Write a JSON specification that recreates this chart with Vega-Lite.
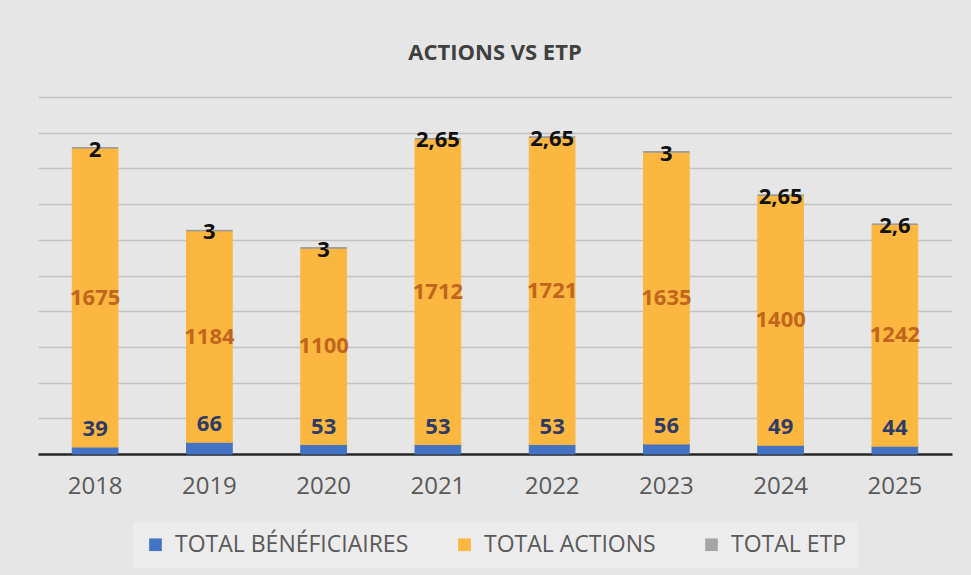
{
  "$schema": "https://vega.github.io/schema/vega-lite/v6.json",
  "width": 914,
  "height": 357,
  "autosize": {"type": "none"},
  "padding": {"left": 38, "top": 97, "right": 19, "bottom": 121},
  "background": "#e6e6e6",
  "title": {
    "text": "ACTIONS VS ETP",
    "font": "Open Sans",
    "fontSize": 22,
    "fontWeight": "bold",
    "color": "#404040",
    "anchor": "middle",
    "offset": 32
  },
  "data": {
    "values": [
      {"year": "2018", "series": "TOTAL BÉNÉFICIAIRES", "idx": 1, "value": 39, "label": "39"},
      {"year": "2018", "series": "TOTAL ACTIONS", "idx": 2, "value": 1675, "label": "1675"},
      {"year": "2018", "series": "TOTAL ETP", "idx": 3, "value": 2, "label": "2"},
      {"year": "2019", "series": "TOTAL BÉNÉFICIAIRES", "idx": 1, "value": 66, "label": "66"},
      {"year": "2019", "series": "TOTAL ACTIONS", "idx": 2, "value": 1184, "label": "1184"},
      {"year": "2019", "series": "TOTAL ETP", "idx": 3, "value": 3, "label": "3"},
      {"year": "2020", "series": "TOTAL BÉNÉFICIAIRES", "idx": 1, "value": 53, "label": "53"},
      {"year": "2020", "series": "TOTAL ACTIONS", "idx": 2, "value": 1100, "label": "1100"},
      {"year": "2020", "series": "TOTAL ETP", "idx": 3, "value": 3, "label": "3"},
      {"year": "2021", "series": "TOTAL BÉNÉFICIAIRES", "idx": 1, "value": 53, "label": "53"},
      {"year": "2021", "series": "TOTAL ACTIONS", "idx": 2, "value": 1712, "label": "1712"},
      {"year": "2021", "series": "TOTAL ETP", "idx": 3, "value": 2.65, "label": "2,65"},
      {"year": "2022", "series": "TOTAL BÉNÉFICIAIRES", "idx": 1, "value": 53, "label": "53"},
      {"year": "2022", "series": "TOTAL ACTIONS", "idx": 2, "value": 1721, "label": "1721"},
      {"year": "2022", "series": "TOTAL ETP", "idx": 3, "value": 2.65, "label": "2,65"},
      {"year": "2023", "series": "TOTAL BÉNÉFICIAIRES", "idx": 1, "value": 56, "label": "56"},
      {"year": "2023", "series": "TOTAL ACTIONS", "idx": 2, "value": 1635, "label": "1635"},
      {"year": "2023", "series": "TOTAL ETP", "idx": 3, "value": 3, "label": "3"},
      {"year": "2024", "series": "TOTAL BÉNÉFICIAIRES", "idx": 1, "value": 49, "label": "49"},
      {"year": "2024", "series": "TOTAL ACTIONS", "idx": 2, "value": 1400, "label": "1400"},
      {"year": "2024", "series": "TOTAL ETP", "idx": 3, "value": 2.65, "label": "2,65"},
      {"year": "2025", "series": "TOTAL BÉNÉFICIAIRES", "idx": 1, "value": 44, "label": "44"},
      {"year": "2025", "series": "TOTAL ACTIONS", "idx": 2, "value": 1242, "label": "1242"},
      {"year": "2025", "series": "TOTAL ETP", "idx": 3, "value": 2.6, "label": "2,6"}
    ]
  },
  "encoding": {
    "x": {
      "field": "year",
      "type": "nominal",
      "scale": {"paddingInner": 0.6, "paddingOuter": 0.3},
      "axis": {
        "title": null,
        "labelAngle": 0,
        "labelFont": "Open Sans",
        "labelFontSize": 24,
        "labelColor": "#595959",
        "labelPadding": 20,
        "ticks": false,
        "domainColor": "#262626",
        "domainWidth": 2.5
      }
    }
  },
  "layer": [
    {
      "mark": {"type": "bar", "strokeWidth": 1},
      "encoding": {
        "y": {
          "field": "value",
          "type": "quantitative",
          "stack": "zero",
          "scale": {"domain": [0, 2000], "nice": false},
          "axis": {
            "title": null,
            "labels": false,
            "ticks": false,
            "domain": false,
            "tickCount": 10,
            "values": [200, 400, 600, 800, 1000, 1200, 1400, 1600, 1800, 2000],
            "gridColor": "#c2c2c2",
            "gridWidth": 1.5
          }
        },
        "color": {
          "field": "series",
          "type": "nominal",
          "sort": ["TOTAL BÉNÉFICIAIRES", "TOTAL ACTIONS", "TOTAL ETP"],
          "scale": {
            "domain": ["TOTAL BÉNÉFICIAIRES", "TOTAL ACTIONS", "TOTAL ETP"],
            "range": ["#4472C4", "#FBB73F", "#A5A5A5"]
          },
          "legend": {
            "title": null,
            "orient": "bottom",
            "direction": "horizontal",
            "symbolType": "square",
            "symbolSize": 160,
            "symbolStrokeWidth": 0,
            "labelFont": "Open Sans",
            "labelFontSize": 23,
            "labelColor": "#595959",
            "labelLimit": 400,
            "labelOffset": 8,
            "columnPadding": 44,
            "fillColor": "#ececec",
            "padding": 11,
            "offset": 24
          }
        },
        "stroke": {
          "field": "series",
          "type": "nominal",
          "scale": {
            "domain": ["TOTAL BÉNÉFICIAIRES", "TOTAL ACTIONS", "TOTAL ETP"],
            "range": ["#4472C4", "#FBB73F", "#9a9a9a"]
          },
          "legend": null
        },
        "order": {"field": "idx", "type": "quantitative", "sort": "ascending"}
      }
    },
    {
      "transform": [{"filter": "datum.idx == 1"}],
      "mark": {
        "type": "text",
        "font": "Open Sans",
        "fontSize": 22,
        "fontWeight": "bold",
        "color": "#2E3B66",
        "baseline": "bottom",
        "dy": -6
      },
      "encoding": {
        "y": {"field": "value", "type": "quantitative"},
        "text": {"field": "label"}
      }
    },
    {
      "transform": [
        {"window": [{"op": "sum", "field": "value", "as": "cum"}], "groupby": ["year"], "sort": [{"field": "idx"}]},
        {"filter": "datum.idx == 2"},
        {"calculate": "datum.cum - datum.value / 2", "as": "mid"}
      ],
      "mark": {
        "type": "text",
        "font": "Open Sans",
        "fontSize": 22,
        "fontWeight": "bold",
        "color": "#C0651B",
        "baseline": "middle"
      },
      "encoding": {
        "y": {"field": "mid", "type": "quantitative"},
        "text": {"field": "label"}
      }
    },
    {
      "transform": [
        {"joinaggregate": [{"op": "sum", "field": "value", "as": "total"}], "groupby": ["year"]},
        {"filter": "datum.idx == 3"}
      ],
      "mark": {
        "type": "text",
        "font": "Open Sans",
        "fontSize": 22,
        "fontWeight": "bold",
        "color": "#111111",
        "baseline": "middle",
        "dy": 2
      },
      "encoding": {
        "y": {"field": "total", "type": "quantitative"},
        "text": {"field": "label"}
      }
    }
  ],
  "config": {
    "view": {"stroke": null},
    "legend": {"layout": {"bottom": {"anchor": "middle"}}}
  }
}
